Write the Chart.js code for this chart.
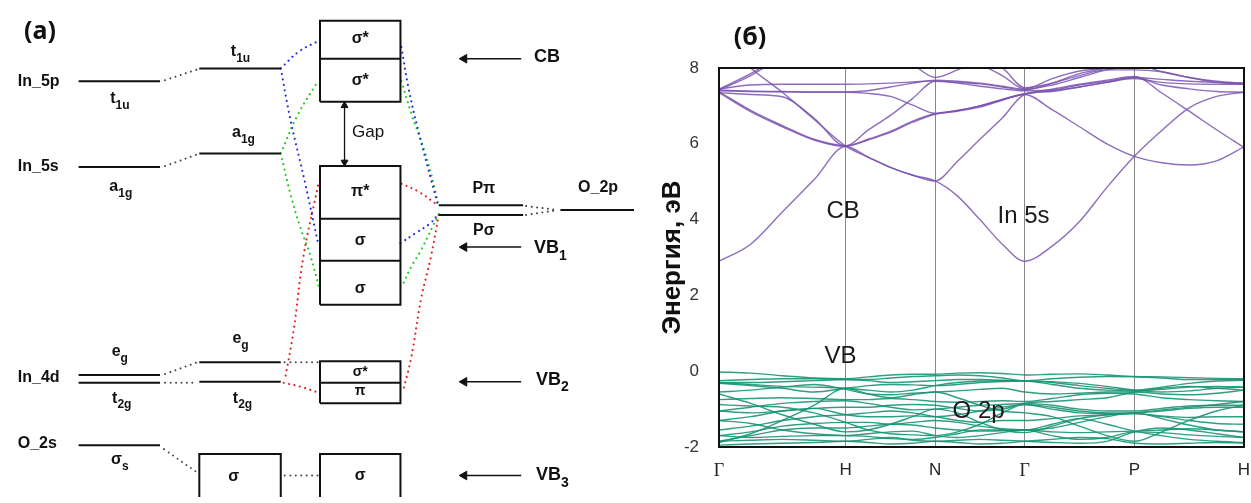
<!DOCTYPE html>
<html>
<head>
<meta charset="utf-8">
<script src="https://cdn.jsdelivr.net/npm/chart.js@4.4.0/dist/chart.umd.min.js"></script>
<style>
  body { margin: 0; background: #fff; }
  #wrap { position: relative; width: 1251px; height: 503px; }
  #diagram { position: absolute; left: 0; top: 0; }
  #bands { position: absolute; left: 640px; top: 0; }
</style>
</head>
<body>
<div id="wrap">
  <canvas id="diagram" width="640" height="503"></canvas>
  <canvas id="bands" width="611" height="503"></canvas>
</div>
<script>
// ---------- panel (a): MO level diagram (diagram units, y grows downward) ----------
const atomX = [74, 157];
const atomLevels = [77, 165, 378, 386, 450];      // In_5p, In_5s, In_4d eg, In_4d t2g, O_2s
const splitX = [197, 280];
const splitLevels = [64, 151, 365, 385];          // t1u, a1g, eg, t2g
const oX = [441, 527];
const oLevels = [204, 214];                       // P pi, P sigma
const o2pX = [565, 640];
const o2pLevel = 209;
const boxX = [320, 402];
const boxEdges = [[15, 54, 98], [164, 218, 261, 306], [364, 386, 407], [459, 540]];
const lowBoxX = [197, 280];
const lowBoxEdges = [459, 540];
const arrowX = [467, 525];
const arrowLevels = [54, 247, 385, 481];
const gapX = 345;
const gapEdges = [98, 164];

const greyLinks = [
  [[162, 76], [195, 65]], [[162, 164], [195, 152]], [[162, 377], [195, 365]],
  [[162, 386], [195, 386]], [[161, 454], [195, 478]], [[284, 365], [320, 365]],
  [[284, 481], [320, 481]], [[530, 205], [563, 209]], [[530, 214], [563, 209]]
];
const blueLinks = [
  [[280, 64], [298, 47], [318, 36]],
  [[280, 64], [290, 117], [305, 182], [318, 243]],
  [[403, 42], [410, 83], [420, 127], [433, 177], [440, 203]],
  [[402, 243], [417, 233], [433, 222], [440, 214]]
];
const greenLinks = [
  [[280, 151], [297, 112], [316, 80]],
  [[280, 151], [290, 193], [300, 227], [310, 255], [319, 288]],
  [[403, 77], [413, 110], [427, 150], [437, 187], [441, 206]],
  [[441, 213], [423, 250], [413, 267], [405, 284]]
];
const redLinks = [
  [[318, 184], [303, 257], [293, 333], [284, 384]],
  [[283, 386], [300, 390], [318, 396]],
  [[403, 182], [420, 190], [440, 204]],
  [[441, 214], [433, 257], [423, 300], [413, 360], [405, 393]]
];

// [text, subscript, x, y, align, size, weight]
const diagramLabels = [
  ['In_5p', '', 12, 77, 'left', 16, 'bold'],
  ['t', '1u', 116, 95, 'center', 16, 'bold'],
  ['t', '1u', 239, 47, 'center', 16, 'bold'],
  ['In_5s', '', 12, 165, 'left', 16, 'bold'],
  ['a', '1g', 117, 185, 'center', 16, 'bold'],
  ['a', '1g', 242, 130, 'center', 16, 'bold'],
  ['In_4d', '', 12, 381, 'left', 16, 'bold'],
  ['e', 'g', 116, 354, 'center', 16, 'bold'],
  ['t', '2g', 118, 402, 'center', 16, 'bold'],
  ['e', 'g', 239, 341, 'center', 16, 'bold'],
  ['t', '2g', 241, 402, 'center', 16, 'bold'],
  ['O_2s', '', 12, 448, 'left', 16, 'bold'],
  ['σ', 's', 116, 465, 'center', 16, 'bold'],
  ['σ', '', 232, 482, 'center', 16, 'bold'],
  ['σ*', '', 361, 33, 'center', 16, 'bold'],
  ['σ*', '', 361, 76, 'center', 16, 'bold'],
  ['Gap', '', 369, 129, 'center', 17, 'normal'],
  ['π*', '', 361, 190, 'center', 16, 'bold'],
  ['σ', '', 361, 240, 'center', 16, 'bold'],
  ['σ', '', 361, 290, 'center', 16, 'bold'],
  ['σ*', '', 361, 375, 'center', 14, 'bold'],
  ['π', '', 361, 395, 'center', 14, 'bold'],
  ['σ', '', 361, 481, 'center', 16, 'bold'],
  ['Pπ', '', 487, 187, 'center', 16, 'bold'],
  ['Pσ', '', 487, 230, 'center', 16, 'bold'],
  ['O_2p', '', 583, 186, 'left', 16, 'bold'],
  ['CB', '', 538, 52, 'left', 18, 'bold'],
  ['VB', '1', 538, 248, 'left', 18, 'bold'],
  ['VB', '2', 540, 383, 'left', 18, 'bold'],
  ['VB', '3', 540, 481, 'left', 18, 'bold']
];

const SANS = '"Liberation Sans", Arial, sans-serif';

function drawText(ctx, px, py, text, sub, size, align, weight, family) {
  const main = weight + ' ' + size + 'px ' + family;
  const small = weight + ' ' + Math.round(size * 0.75) + 'px ' + family;
  ctx.font = main;
  const w1 = ctx.measureText(text).width;
  ctx.font = small;
  const w2 = sub ? ctx.measureText(sub).width : 0;
  let x0 = px;
  if (align === 'center') x0 = px - (w1 + w2) / 2;
  ctx.textAlign = 'left';
  ctx.textBaseline = 'middle';
  ctx.font = main;
  ctx.fillText(text, x0, py);
  if (sub) {
    ctx.font = small;
    ctx.fillText(sub, x0 + w1, py + size * 0.42);
  }
}

const pts = arr => arr.map(p => ({ x: p[0], y: p[1] }));
function line(points, color, width, extra) {
  return Object.assign({
    data: pts(points), showLine: true, borderColor: color, borderWidth: width,
    pointRadius: 0, tension: 0
  }, extra || {});
}

const diagramSets = [];
atomLevels.forEach(y => diagramSets.push(line([[atomX[0], y], [atomX[1], y]], '#111', 2)));
splitLevels.forEach(y => diagramSets.push(line([[splitX[0], y], [splitX[1], y]], '#111', 2)));
oLevels.forEach(y => diagramSets.push(line([[oX[0], y], [oX[1], y]], '#111', 2)));
diagramSets.push(line([[o2pX[0], o2pLevel], [o2pX[1], o2pLevel]], '#111', 2));

boxEdges.forEach(edges => {
  const top = edges[0], bottom = edges[edges.length - 1];
  diagramSets.push(line([[boxX[0], bottom], [boxX[0], top], [boxX[1], top], [boxX[1], bottom], [boxX[0], bottom]], '#111', 2));
  edges.slice(1, -1).forEach(y => diagramSets.push(line([[boxX[0], y], [boxX[1], y]], '#111', 2)));
});
diagramSets.push(line([[lowBoxX[0], lowBoxEdges[1]], [lowBoxX[0], lowBoxEdges[0]], [lowBoxX[1], lowBoxEdges[0]], [lowBoxX[1], lowBoxEdges[1]]], '#111', 2));

const arrowHead = { pointStyle: 'triangle', pointRadius: [5, 0], pointRotation: [270, 0], pointBackgroundColor: '#111', pointBorderColor: '#111', pointBorderWidth: 1 };
arrowLevels.forEach(y => diagramSets.push(line([[arrowX[0], y], [arrowX[1], y]], '#111', 1.5, arrowHead)));
diagramSets.push(line([[gapX, gapEdges[0] + 4], [gapX, gapEdges[1] - 4]], '#111', 1.3, {
  pointStyle: 'triangle', pointRadius: 4, pointRotation: [0, 180],
  pointBackgroundColor: '#111', pointBorderColor: '#111', pointBorderWidth: 1
}));

// dotted connectors: zero-length dashes with round caps give round dots
const dotted = { borderDash: [0.01, 5.5], borderCapStyle: 'round', tension: 0.4 };
greyLinks.forEach(l => diagramSets.push(line(l, '#444', 2, dotted)));
blueLinks.forEach(l => diagramSets.push(line(l, '#2630e0', 2.2, dotted)));
greenLinks.forEach(l => diagramSets.push(line(l, '#22cc22', 2.2, dotted)));
redLinks.forEach(l => diagramSets.push(line(l, '#e62222', 2.2, dotted)));

const diagramText = {
  id: 'diagramText',
  afterDatasetsDraw(chart) {
    const { ctx, scales: { x, y } } = chart;
    ctx.save();
    ctx.fillStyle = '#111';
    diagramLabels.forEach(l => {
      drawText(ctx, x.getPixelForValue(l[2]), y.getPixelForValue(l[3]), l[0], l[1], l[5], l[4], l[6], SANS);
    });
    drawText(ctx, 40, 32, '(a)', '', 25, 'center', 'bold', '"Noto Sans", sans-serif');
    ctx.restore();
  }
};

new Chart(document.getElementById('diagram').getContext('2d'), {
  type: 'scatter',
  data: { datasets: diagramSets },
  options: {
    responsive: false, animation: false, devicePixelRatio: 1,
    layout: { padding: 0 },
    plugins: { legend: { display: false }, tooltip: { enabled: false } },
    scales: {
      x: { type: 'linear', min: 0, max: 640, display: false },
      y: { type: 'linear', min: 0, max: 503, reverse: true, display: false }
    }
  },
  plugins: [diagramText]
});

// ---------- panel (б): band structure ----------
const kPath = [0, 0.25, 0.5, 0.75, 1, 1.1768, 1.3536, 1.5303, 1.7071, 1.8839, 2.0607, 2.2374, 2.4142,
  2.6307, 2.8472, 3.0637, 3.2802, 3.4967, 3.7132, 3.9298, 4.1463];
const kTicks = [0, 1, 1.7071, 2.4142, 3.2802, 4.1463];
const kLabels = ['Γ', 'H', 'N', 'Γ', 'P', 'H'];

const conductionBands = [
  [2.90, 3.35, 4.20, 5.05, 5.93, 5.65, 5.38, 5.17, 5.02, 4.62, 4.00, 3.35, 2.90, 3.30, 3.95, 4.85, 5.67, 6.35, 6.95, 7.25, 7.36],
  [7.35, 6.85, 6.45, 6.10, 5.93, 6.10, 6.30, 6.57, 6.78, 6.86, 6.97, 7.15, 7.30, 6.90, 6.45, 6.00, 5.67, 5.50, 5.44, 5.55, 5.92],
  [7.38, 6.88, 6.48, 6.12, 5.95, 6.12, 6.33, 6.60, 6.80, 6.88, 7.00, 7.17, 7.32, 7.44, 7.57, 7.68, 7.78, 7.34, 6.86, 6.37, 5.90],
  [7.35, 7.30, 7.24, 6.68, 5.94, 6.36, 6.75, 7.20, 7.65, 7.62, 7.58, 7.50, 7.42, 7.60, 7.85, 8.00, 8.10, 7.90, 7.75, 7.65, 7.60],
  [8.80, 8.00, 7.36, 6.65, 5.94, 5.65, 5.38, 5.17, 5.02, 5.54, 6.12, 6.68, 7.30, 7.38, 7.50, 7.62, 7.72, 7.62, 7.58, 7.57, 7.57],
  [7.40, 7.38, 7.37, 7.36, 7.36, 7.33, 7.25, 7.02, 6.80, 6.88, 7.00, 7.17, 7.32, 7.40, 7.50, 7.62, 7.75, 7.55, 7.45, 7.38, 7.36],
  [7.42, 7.39, 7.38, 7.37, 7.37, 7.40, 7.50, 7.60, 7.68, 7.65, 7.60, 7.52, 7.44, 7.55, 7.75, 7.95, 8.05, 8.15, 8.10, 8.05, 8.00],
  [7.45, 7.55, 7.57, 7.57, 7.57, 7.58, 7.60, 7.63, 7.66, 7.60, 7.52, 7.45, 7.40, 7.42, 7.55, 7.65, 7.75, 7.70, 7.65, 7.62, 7.60],
  [7.42, 7.80, 8.30, 8.70, 9.00, 9.00, 8.80, 8.50, 8.30, 8.40, 8.10, 7.80, 7.45, 7.72, 7.92, 8.00, 8.10, 8.30, 8.50, 8.60, 8.70],
  [7.44, 7.85, 8.35, 8.80, 9.10, 8.90, 8.50, 8.10, 7.75, 7.95, 8.20, 8.00, 7.48, 7.60, 7.80, 7.95, 7.95, 7.90, 7.75, 7.62, 7.58]
];

const valenceBands = [
  [-0.02, -0.05, -0.12, -0.18, -0.20, -0.15, -0.10, -0.08, -0.08, -0.05, -0.04, -0.06, -0.10, -0.08, -0.07, -0.10, -0.14, -0.15, -0.17, -0.19, -0.20],
  [-0.25, -0.22, -0.20, -0.20, -0.22, -0.22, -0.18, -0.14, -0.12, -0.10, -0.12, -0.18, -0.25, -0.20, -0.16, -0.14, -0.15, -0.18, -0.22, -0.22, -0.22],
  [-0.30, -0.30, -0.28, -0.25, -0.22, -0.25, -0.30, -0.28, -0.25, -0.22, -0.22, -0.24, -0.25, -0.30, -0.38, -0.45, -0.50, -0.42, -0.32, -0.26, -0.24],
  [-0.32, -0.38, -0.45, -0.55, -0.45, -0.38, -0.35, -0.36, -0.38, -0.35, -0.30, -0.27, -0.26, -0.35, -0.45, -0.50, -0.52, -0.48, -0.42, -0.40, -0.42],
  [-0.55, -0.50, -0.42, -0.35, -0.48, -0.60, -0.62, -0.58, -0.55, -0.52, -0.48, -0.45, -0.55, -0.60, -0.58, -0.55, -0.55, -0.60, -0.62, -0.58, -0.50],
  [-0.75, -0.72, -0.70, -0.72, -0.75, -0.75, -0.72, -0.75, -0.80, -0.82, -0.80, -0.78, -0.80, -0.72, -0.62, -0.58, -0.60, -0.70, -0.75, -0.78, -0.80],
  [-1.05, -0.95, -0.85, -0.80, -0.78, -0.85, -0.95, -1.02, -1.00, -0.95, -0.90, -0.88, -0.85, -0.90, -1.00, -1.05, -1.05, -0.98, -0.92, -0.90, -0.90],
  [-1.05, -1.10, -1.05, -0.98, -0.95, -0.95, -0.90, -0.88, -0.90, -0.98, -1.05, -1.00, -0.88, -0.95, -1.05, -1.10, -1.10, -1.05, -0.98, -0.95, -0.95],
  [-1.30, -1.20, -1.05, -0.98, -1.15, -1.20, -1.20, -1.18, -1.20, -1.15, -1.05, -0.95, -0.88, -1.00, -1.10, -1.12, -1.12, -1.18, -1.22, -1.20, -1.20],
  [-1.55, -1.45, -1.30, -1.20, -1.15, -1.10, -1.05, -1.10, -1.20, -1.30, -1.35, -1.30, -1.30, -1.25, -1.18, -1.15, -1.12, -1.20, -1.30, -1.38, -1.40],
  [-1.70, -1.60, -1.45, -1.38, -1.35, -1.35, -1.40, -1.35, -1.30, -1.35, -1.45, -1.52, -1.55, -1.50, -1.35, -1.20, -1.10, -1.25, -1.42, -1.55, -1.60],
  [-1.85, -1.70, -1.55, -1.50, -1.50, -1.45, -1.40, -1.42, -1.50, -1.55, -1.58, -1.57, -1.55, -1.60, -1.62, -1.60, -1.58, -1.55, -1.52, -1.55, -1.60],
  [-1.70, -1.75, -1.72, -1.70, -1.70, -1.65, -1.60, -1.58, -1.70, -1.75, -1.70, -1.62, -1.55, -1.70, -1.80, -1.75, -1.60, -1.62, -1.68, -1.72, -1.75],
  [-1.85, -1.82, -1.80, -1.82, -1.85, -1.80, -1.75, -1.82, -1.85, -1.82, -1.80, -1.82, -1.85, -1.88, -1.90, -1.85, -1.60, -1.50, -1.55, -1.65, -1.75],
  [-1.88, -1.65, -1.30, -0.90, -0.45, -0.60, -0.70, -0.62, -0.55, -0.70, -0.90, -1.05, -1.10, -1.20, -1.45, -1.70, -1.85, -1.60, -1.30, -1.05, -0.90],
  [-0.60, -0.85, -1.15, -1.40, -1.60, -1.55, -1.40, -1.20, -1.00, -1.10, -1.35, -1.55, -1.62, -1.45, -1.25, -1.15, -1.10, -1.02, -0.95, -0.88, -0.80],
  [-0.88, -0.92, -0.95, -1.10, -1.35, -1.55, -1.65, -1.68, -1.70, -1.60, -1.40, -1.10, -0.85, -0.80, -0.75, -0.70, -0.55, -0.45, -0.40, -0.45, -0.50],
  [-1.95, -1.92, -1.90, -1.88, -1.85, -1.88, -1.92, -1.90, -1.85, -1.88, -1.92, -1.90, -1.85, -1.80, -1.75, -1.78, -1.90, -1.92, -1.90, -1.88, -1.90],
  [-0.30, -0.35, -0.40, -0.42, -0.45, -0.50, -0.55, -0.50, -0.38, -0.30, -0.26, -0.25, -0.25, -0.28, -0.32, -0.40, -0.50, -0.55, -0.52, -0.45, -0.42],
  [-1.30, -1.38, -1.55, -1.65, -1.70, -1.72, -1.78, -1.80, -1.75, -1.65, -1.55, -1.55, -1.55, -1.40, -1.25, -1.40, -1.58, -1.70, -1.80, -1.85, -1.88]
];

// [text, k, energy]
const bandNotes = [['CB', 0.98, 4.22], ['In 5s', 2.405, 4.09], ['VB', 0.96, 0.40], ['O 2p', 2.05, -1.05]];

function bandSet(values, color) {
  return {
    data: kPath.map((k, i) => ({ x: k, y: values[i] })),
    showLine: true, borderColor: color, borderWidth: 1.4, pointRadius: 0,
    cubicInterpolationMode: 'monotone'
  };
}
const bandSets = valenceBands.map(b => bandSet(b, 'rgba(24,148,115,0.9)'))
  .concat(conductionBands.map(b => bandSet(b, 'rgba(122,84,176,0.85)')));

const bandDecor = {
  id: 'bandDecor',
  afterDatasetsDraw(chart) {
    const { ctx, chartArea: a, scales: { x, y } } = chart;
    ctx.save();
    ctx.strokeStyle = '#111';
    ctx.lineWidth = 2;
    ctx.strokeRect(a.left, a.top, a.right - a.left, a.bottom - a.top);
    ctx.fillStyle = '#1a1a1a';
    ctx.font = '24px ' + SANS;
    ctx.textAlign = 'center';
    ctx.textBaseline = 'middle';
    bandNotes.forEach(n => ctx.fillText(n[0], x.getPixelForValue(n[1]), y.getPixelForValue(n[2])));
    ctx.fillStyle = '#111';
    ctx.font = 'bold 25px "Noto Sans", sans-serif';
    ctx.fillText('(б)', a.left + 31, a.top - 30);
    ctx.restore();
  }
};

new Chart(document.getElementById('bands').getContext('2d'), {
  type: 'scatter',
  data: { datasets: bandSets },
  options: {
    responsive: false, animation: false, devicePixelRatio: 1,
    layout: { padding: { top: 68, right: 7, bottom: 0, left: 0 } },
    plugins: { legend: { display: false }, tooltip: { enabled: false } },
    scales: {
      x: {
        type: 'linear', min: 0, max: kTicks[kTicks.length - 1],
        afterBuildTicks: s => { s.ticks = kTicks.map(v => ({ value: v })); },
        afterFit: s => { s.height = 56; s.paddingLeft = 0; s.paddingRight = 0; },
        grid: { color: '#888', lineWidth: 1, drawTicks: false },
        border: { display: false },
        ticks: {
          autoSkip: false, padding: 13, color: '#222', maxRotation: 0,
          callback: (v, i) => kLabels[i],
          font: c => (c.tick && kLabels[c.index] === 'Γ')
            ? { family: '"Liberation Serif", serif', size: 18 }
            : { family: SANS, size: 17 }
        }
      },
      y: {
        min: -2, max: 8,
        afterBuildTicks: s => { s.ticks = [-2, 0, 2, 4, 6, 8].map(v => ({ value: v })); },
        afterFit: s => { s.width = 79; s.paddingTop = 0; s.paddingBottom = 0; },
        grid: { display: false },
        border: { display: false },
        ticks: { padding: 12, color: '#333', font: { family: SANS, size: 17 } },
        title: {
          display: true, text: 'Энергия, эВ', color: '#111',
          font: { family: SANS, size: 26, weight: 'bold' },
          padding: { top: 17, bottom: 0 }
        }
      }
    }
  },
  plugins: [bandDecor]
});
</script>
</body>
</html>
